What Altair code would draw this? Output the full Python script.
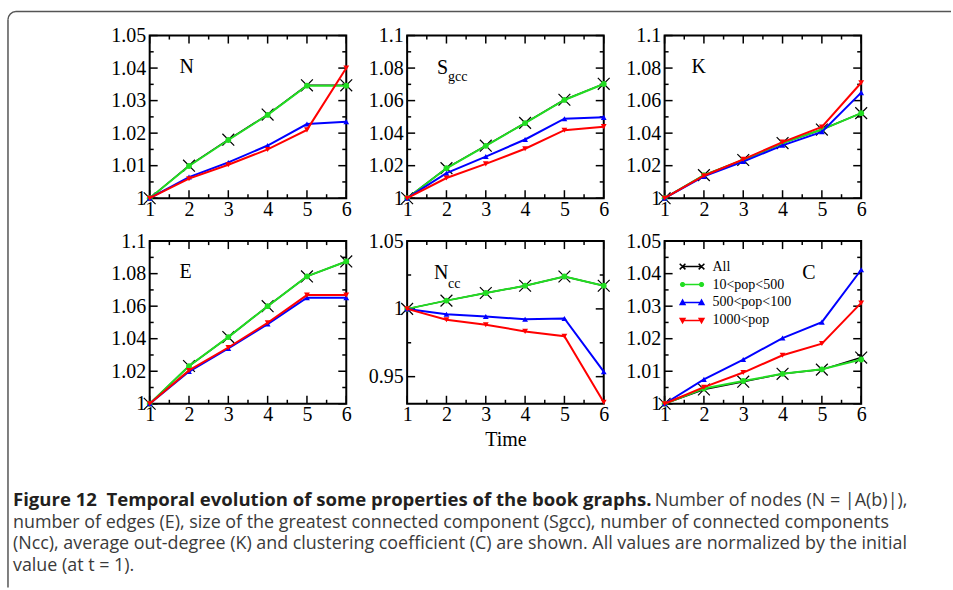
import math
import altair as alt
import pandas as pd

# ---------------- data ----------------
TIME = [1, 2, 3, 4, 5, 6]
SERIES = ["All", "10<pop<500", "500<pop<100", "1000<pop"]
COLORS = ["#000000", "#22dd22", "#0000ff", "#ff0000"]

N_ALL = [1.0, 1.0100, 1.0180, 1.0257, 1.0347, 1.0347]
N_G = [1.0, 1.0099, 1.0179, 1.0256, 1.0346, 1.0346]
N_B = [1.0, 1.0065, 1.0110, 1.0162, 1.0228, 1.0235]
N_R = [1.0, 1.0060, 1.0103, 1.0150, 1.0210, 1.0400]

S_ALL = [1.0, 1.0185, 1.0323, 1.0463, 1.0605, 1.0703]
S_G = [1.0, 1.0184, 1.0322, 1.0462, 1.0604, 1.0702]
S_B = [1.0, 1.0154, 1.0256, 1.0361, 1.0489, 1.0497]
S_R = [1.0, 1.0124, 1.0211, 1.0304, 1.0418, 1.0440]

K_ALL = [1.0, 1.0142, 1.0235, 1.0339, 1.0422, 1.0523]
K_G = [1.0, 1.0142, 1.0235, 1.0339, 1.0422, 1.0523]
K_B = [1.0, 1.0134, 1.0225, 1.0325, 1.0408, 1.0649]
K_R = [1.0, 1.0138, 1.0239, 1.0345, 1.0438, 1.0710]

E_ALL = [1.0, 1.0232, 1.0410, 1.0600, 1.0783, 1.0875]
E_G = [1.0, 1.0232, 1.0410, 1.0600, 1.0783, 1.0875]
E_B = [1.0, 1.0198, 1.0340, 1.0490, 1.0652, 1.0652]
E_R = [1.0, 1.0205, 1.0346, 1.0498, 1.0668, 1.0668]

NCC_ALL = [1.0, 1.0061, 1.0117, 1.0171, 1.0239, 1.0171]
NCC_G = [1.0, 1.0061, 1.0117, 1.0171, 1.0239, 1.0171]
NCC_B = [1.0, 0.9961, 0.9944, 0.9924, 0.9929, 0.9537]
NCC_R = [1.0, 0.9920, 0.9883, 0.9834, 0.9798, 0.9312]

C_ALL = [1.0, 1.0044, 1.0068, 1.0092, 1.0105, 1.0142]
C_G = [1.0, 1.0047, 1.0070, 1.0092, 1.0106, 1.0136]
C_B = [1.0, 1.0075, 1.0136, 1.0202, 1.0251, 1.0412]
C_R = [1.0, 1.0051, 1.0096, 1.0149, 1.0185, 1.0310]

X_MAJOR = [1, 2, 3, 4, 5, 6]
X_MINOR = [1.5, 2.5, 3.5, 4.5, 5.5]
Y_MAJ_005 = [1.0, 1.01, 1.02, 1.03, 1.04, 1.05]
Y_MIN_005 = [1.005, 1.015, 1.025, 1.035, 1.045]
Y_MAJ_010 = [1.0, 1.02, 1.04, 1.06, 1.08, 1.1]
Y_MIN_010 = [1.01, 1.03, 1.05, 1.07, 1.09]
Y_MAJ_NCC = [0.95, 1.0, 1.05]
Y_MIN_NCC = [0.975, 1.025]

CAPTION_BOLD = "Figure 12\u00a0 Temporal evolution of some properties of the book graphs."
CAPTION_L1 = "Number of nodes (N = |A(b)|),"
CAPTION_L2 = "number of edges (E), size of the greatest connected component (Sgcc), number of connected components"
CAPTION_L3 = "(Ncc), average out-degree (K) and clustering coefficient (C) are shown. All values are normalized by the initial"
CAPTION_L4 = "value (at t = 1)."

# ---------------- styling ----------------
W, H = 197, 163
SERIF = "Liberation Serif"
SANS = "Open Sans"
XPATH = "M-1,-1L1,1M-1,1L1,-1"
ONE = pd.DataFrame({"k": [0]})


def poly_circle(cx, r, n=10):
    pts = [(cx + r * math.cos(2 * math.pi * i / n), r * math.sin(2 * math.pi * i / n)) for i in range(n)]
    return "M" + "L".join(f"{x:.3f},{y:.3f}" for x, y in pts) + "Z"


LEG_PATHS = [
    "M-1,0L1,0"
    "M-1.3,-0.3L-0.7,0.3M-1.3,0.3L-0.7,-0.3M0.7,-0.3L1.3,0.3M0.7,0.3L1.3,-0.3",
    "M-1,0L1,0" + poly_circle(-1, 0.2) + poly_circle(1, 0.2),
    "M-1,0L1,0M-1.25,0.2L-0.75,0.2L-1,-0.25ZM0.75,0.2L1.25,0.2L1,-0.25Z",
    "M-1,0L1,0M-1.25,-0.2L-0.75,-0.2L-1,0.25ZM0.75,-0.2L1.25,-0.2L1,0.25Z",
]


def txt(s, x, y, size=20, font=SERIF, weight="normal", color="black"):
    return alt.Chart(ONE).mark_text(
        text=s, align="left", baseline="alphabetic", font=font,
        fontSize=size, fontWeight=weight, color=color,
    ).encode(x=alt.value(x), y=alt.value(y))


def make_panel(values, ydom, ymaj, ymin, labels, xtitle=None, extra=None, legend=False):
    rows = []
    for s, vals in zip(SERIES, values):
        for t, v in zip(TIME, vals):
            rows.append({"t": t, "v": v, "series": s})
    df = pd.DataFrame(rows)
    xs = alt.Scale(domain=[1, 6], nice=False, zero=False)
    ys = alt.Scale(domain=ydom, nice=False, zero=False)
    xkw = dict(values=X_MAJOR, format="d", ticks=False, tickSize=0, domain=False, grid=False,
               labelFont=SERIF, labelFontSize=20, labelColor="black", labelPadding=1,
               labelFlush=False, labelOverlap=False)
    if xtitle:
        xaxis = alt.Axis(title=xtitle, titleFont=SERIF, titleFontSize=20, titleFontWeight="normal",
                         titleColor="black", titlePadding=5, **xkw)
    else:
        xaxis = alt.Axis(title=None, **xkw)
    yaxis = alt.Axis(values=ymaj, format="~g", ticks=False, tickSize=0, domain=False, grid=False,
                     labelFont=SERIF, labelFontSize=20, labelColor="black", labelPadding=4,
                     labelOverlap=False, title=None)
    X = lambda f: alt.X(f"{f}:Q", scale=xs, axis=xaxis)
    Y = lambda f: alt.Y(f"{f}:Q", scale=ys, axis=yaxis)

    layers = []
    # inward ticks
    for vals, ln in ((X_MAJOR, 8), (X_MINOR, 4)):
        d = pd.DataFrame({"x": vals})
        layers.append(alt.Chart(d).mark_rule(color="black", strokeWidth=1.5).encode(
            x=X("x"), y=alt.value(H), y2=alt.value(H - ln)))
        layers.append(alt.Chart(d).mark_rule(color="black", strokeWidth=1.5).encode(
            x=X("x"), y=alt.value(0), y2=alt.value(ln)))
    for vals, ln in ((ymaj, 8), (ymin, 4)):
        d = pd.DataFrame({"y": vals})
        layers.append(alt.Chart(d).mark_rule(color="black", strokeWidth=1.5).encode(
            y=Y("y"), x=alt.value(0), x2=alt.value(ln)))
        layers.append(alt.Chart(d).mark_rule(color="black", strokeWidth=1.5).encode(
            y=Y("y"), x=alt.value(W), x2=alt.value(W - ln)))

    # series
    for i, s in enumerate(SERIES):
        d = df[df.series == s]
        c = COLORS[i]
        layers.append(alt.Chart(d).mark_line(color=c, strokeWidth=1.5 if i == 0 else 2).encode(
            x=X("t"), y=Y("v")))
        if i == 0:
            pt = alt.Chart(d).mark_point(shape=XPATH, filled=False, color=c, size=140,
                                         strokeWidth=1.2, opacity=1)
        else:
            shp = ["circle", "triangle-up", "triangle-down"][i - 1]
            pt = alt.Chart(d).mark_point(shape=shp, filled=True, color=c, size=34, opacity=1)
        layers.append(pt.encode(x=X("t"), y=Y("v")))

    if legend:
        cs = alt.Scale(domain=SERIES, range=COLORS)
        ss = alt.Scale(domain=SERIES, range=LEG_PATHS)
        lg = alt.Legend(orient="none", legendX=17, legendY=15, title=None, labelFont=SERIF,
                        labelFontSize=14, labelColor="black", symbolSize=361,
                        symbolStrokeWidth=1.5, rowPadding=0, labelOffset=10, padding=0,
                        symbolOpacity=1)
        layers.append(alt.Chart(df).transform_filter("false").mark_point(opacity=1).encode(
            x=X("t"), y=Y("v"),
            fill=alt.Fill("series:N", scale=cs, legend=lg),
            stroke=alt.Stroke("series:N", scale=cs, legend=lg),
            shape=alt.Shape("series:N", scale=ss, legend=lg),
        ))

    for lab in labels:
        layers.append(txt(*lab))
    if extra:
        layers.extend(extra)
    return alt.layer(*layers).properties(width=W, height=H)


# frame (drawn from the first panel, outside its plot area)
FL, FT, R = -142, -24, 8
FRAME = "#555555"
frame = [
    alt.Chart(ONE).mark_rule(color=FRAME, strokeWidth=1.5).encode(
        x=alt.value(FL + R), x2=alt.value(803), y=alt.value(FT)),
    alt.Chart(ONE).mark_rule(color=FRAME, strokeWidth=1.5).encode(
        x=alt.value(FL), y=alt.value(FT + R), y2=alt.value(553)),
    alt.Chart(ONE).mark_arc(radius=R + 0.75, radius2=R - 0.75, theta=4.712389, theta2=6.283185,
                            color=FRAME).encode(x=alt.value(FL + R), y=alt.value(FT + R)),
]

# caption (drawn from the bottom-left panel)
CX = -137
caption = [
    txt(CAPTION_BOLD, CX, 265, 18.6, SANS, "bold", "#231f20"),
    txt(CAPTION_L1, 506, 265, 18, SANS, "normal", "#3a3a3a"),
    txt(CAPTION_L2, CX, 287, 17.9, SANS, "normal", "#3a3a3a"),
    txt(CAPTION_L3, CX, 309, 17.9, SANS, "normal", "#3a3a3a"),
    txt(CAPTION_L4, CX, 331, 17.9, SANS, "normal", "#3a3a3a"),
]

p1 = make_panel([N_ALL, N_G, N_B, N_R], [1.0, 1.05], Y_MAJ_005, Y_MIN_005,
                [("N", 30, 38)], extra=frame)
p2 = make_panel([S_ALL, S_G, S_B, S_R], [1.0, 1.1], Y_MAJ_010, Y_MIN_010,
                [("S", 30, 39), ("gcc", 41, 46, 14)])
p3 = make_panel([K_ALL, K_G, K_B, K_R], [1.0, 1.1], Y_MAJ_010, Y_MIN_010,
                [("K", 27, 38)])
p4 = make_panel([E_ALL, E_G, E_B, E_R], [1.0, 1.1], Y_MAJ_010, Y_MIN_010,
                [("E", 30, 37)], extra=caption)
p5 = make_panel([NCC_ALL, NCC_G, NCC_B, NCC_R], [0.93, 1.05], Y_MAJ_NCC, Y_MIN_NCC,
                [("N", 27, 38), ("cc", 41, 47, 14)], xtitle="Time")
p6 = make_panel([C_ALL, C_G, C_B, C_R], [1.0, 1.05], Y_MAJ_005, Y_MIN_005,
                [("C", 138, 38)], legend=True)

chart = alt.concat(
    p1, p2, p3, p4, p5, p6, columns=3, bounds="flush",
    spacing={"row": 43, "column": 61},
).resolve_scale(
    fill="independent", stroke="independent", shape="independent"
).resolve_legend(
    fill="independent", stroke="independent", shape="independent"
).properties(
    padding={"left": 6, "top": 9, "right": 0, "bottom": 0},
    background="white",
).configure_view(stroke="black", strokeWidth=2)

chart.save("out.html", embed_options={"renderer": "svg", "actions": False})
